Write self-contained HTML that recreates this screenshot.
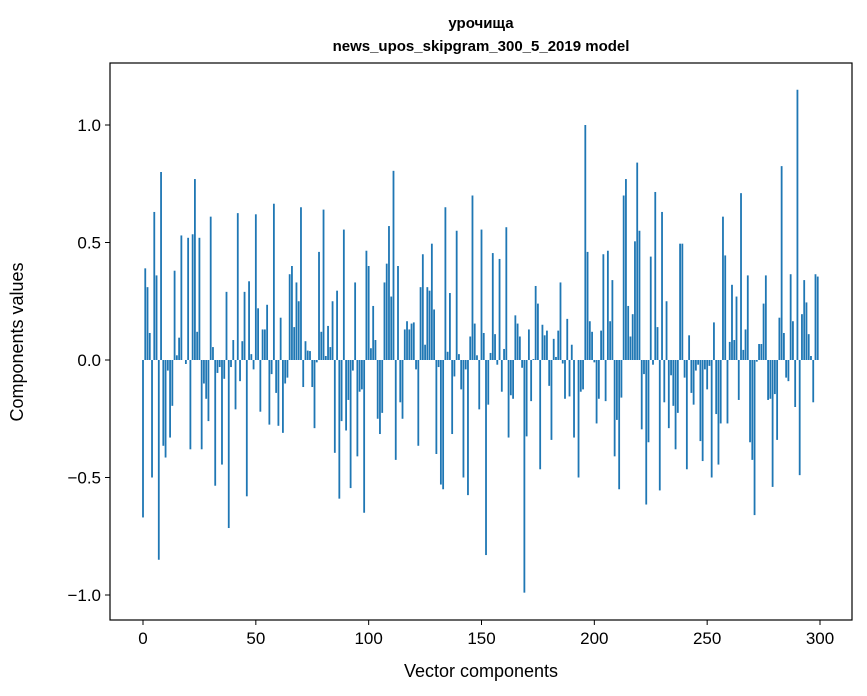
<!DOCTYPE html>
<html><head><meta charset="utf-8">
<style>
body{margin:0;background:#fff;}
svg{display:block;font-family:"Liberation Sans","DejaVu Sans",sans-serif;}
</style></head>
<body>
<svg id="chart" width="867" height="696" viewBox="0 0 867 696">
<rect x="0" y="0" width="867" height="696" fill="#fff"/>
<text x="481" y="28" text-anchor="middle" font-size="15" font-weight="bold">урочища</text>
<text x="481" y="51" text-anchor="middle" font-size="15" font-weight="bold">news_upos_skipgram_300_5_2019 model</text>
<g id="bars"></g>
<g id="axes"></g>
<text x="481" y="677" text-anchor="middle" font-size="18">Vector components</text>
<text transform="translate(23,342) rotate(-90)" text-anchor="middle" font-size="18">Components values</text>
</svg>
<script>
const values = [
-0.67,0.39,0.31,0.115,-0.50,0.63,0.36,-0.85,0.80,-0.365,
-0.415,-0.045,-0.33,-0.195,0.38,0.02,0.095,0.53,0.0,-0.017,
0.52,-0.38,0.535,0.77,0.12,0.52,-0.38,-0.1,-0.165,-0.26,
0.61,0.055,-0.535,-0.055,-0.03,-0.445,-0.08,0.29,-0.715,-0.03,
0.085,-0.21,0.625,-0.09,0.08,0.29,-0.58,0.335,0.025,-0.04,
0.62,0.22,-0.22,0.13,0.13,0.235,-0.275,-0.06,0.665,-0.14,
-0.28,0.18,-0.31,-0.1,-0.075,0.365,0.40,0.14,0.33,0.25,
0.65,-0.115,0.08,0.04,0.038,-0.115,-0.29,-0.01,0.46,0.12,
0.64,0.017,0.145,0.055,0.25,-0.395,0.295,-0.59,-0.26,0.555,
-0.30,-0.17,-0.545,-0.045,0.33,-0.41,-0.135,-0.125,-0.65,0.465,
0.40,0.05,0.23,0.085,-0.25,-0.315,-0.225,0.33,0.41,0.57,
0.27,0.805,-0.425,0.40,-0.18,-0.25,0.13,0.165,0.13,0.155,
0.16,-0.04,-0.365,0.31,0.45,0.065,0.31,0.295,0.495,0.215,
-0.40,-0.03,-0.53,-0.55,0.65,0.035,0.285,-0.315,-0.07,0.55,
0.025,-0.125,-0.50,-0.04,-0.575,0.10,0.70,0.155,0.02,-0.21,
0.555,0.115,-0.83,-0.19,0.03,0.455,0.11,-0.02,0.43,-0.135,
0.047,0.565,-0.33,-0.15,-0.165,0.19,0.155,0.10,-0.033,-0.99,
-0.325,0.13,-0.175,0.004,0.315,0.24,-0.465,0.15,0.105,0.125,
-0.11,-0.34,0.09,0.013,0.125,0.33,-0.015,-0.165,0.175,-0.155,
0.065,-0.33,0.0,-0.50,-0.135,-0.125,1.0,0.46,0.165,0.12,
-0.01,-0.27,-0.165,0.125,0.45,-0.175,0.465,0.165,0.34,-0.41,
-0.255,-0.55,-0.16,0.70,0.77,0.23,0.10,0.195,0.505,0.84,
0.55,-0.295,-0.06,-0.615,-0.35,0.44,-0.02,0.715,0.14,-0.555,
0.63,-0.18,0.25,-0.29,-0.065,-0.195,-0.38,-0.225,0.495,0.495,
-0.075,-0.465,0.105,-0.14,-0.19,-0.045,-0.02,-0.345,-0.43,-0.04,
-0.125,-0.025,-0.50,0.16,-0.23,-0.445,-0.27,0.61,0.445,-0.27,
0.077,0.32,0.085,0.27,-0.17,0.71,0.043,0.13,0.36,-0.35,
-0.425,-0.66,-0.007,0.068,0.068,0.24,0.36,-0.17,-0.165,-0.54,
-0.145,-0.34,0.18,0.825,0.115,-0.075,-0.09,0.365,0.165,-0.20,
1.15,-0.49,0.195,0.34,0.245,0.11,0.017,-0.18,0.365,0.355
];
const xTicks = [0,50,100,150,200,250,300];
const yTicks = [-1.0,-0.5,0.0,0.5,1.0];
const yTickLabels = ["\u22121.0","\u22120.5","0.0","0.5","1.0"];

const NS="http://www.w3.org/2000/svg";
const L=110,T=63,R=852,B=620;
function xs(v){return 143+(820-143)*v/300;}
function ys(v){return 360-235*v;}
const bars=document.getElementById('bars');
values.forEach((v,i)=>{
  const r=document.createElementNS(NS,'rect');
  const w=(xs(1)-xs(0))*0.8;
  r.setAttribute('x',xs(i)-w/2);
  r.setAttribute('y',Math.min(ys(v),ys(0)));
  r.setAttribute('width',w);
  r.setAttribute('height',Math.abs(ys(v)-ys(0)));
  r.setAttribute('fill','#1f77b4');
  
  
  bars.appendChild(r);
});
const ax=document.getElementById('axes');
const frame=document.createElementNS(NS,'rect');
frame.setAttribute('x',L);frame.setAttribute('y',T);
frame.setAttribute('width',R-L);frame.setAttribute('height',B-T);
frame.setAttribute('fill','none');frame.setAttribute('stroke','#000');frame.setAttribute('stroke-width','1.2');


ax.appendChild(frame);
xTicks.forEach(t=>{
  const l=document.createElementNS(NS,'line');
  l.setAttribute('x1',xs(t));l.setAttribute('x2',xs(t));
  l.setAttribute('y1',B);l.setAttribute('y2',B+5);l.setAttribute('stroke','#000');
  
  
  ax.appendChild(l);
  const tx=document.createElementNS(NS,'text');
  tx.setAttribute('x',xs(t));tx.setAttribute('y',B+24);
  tx.setAttribute('text-anchor','middle');tx.setAttribute('font-size','17');
  tx.textContent=t;
  
  
  ax.appendChild(tx);
});
yTicks.forEach((t,k)=>{
  const l=document.createElementNS(NS,'line');
  l.setAttribute('x1',L-5);l.setAttribute('x2',L);
  l.setAttribute('y1',ys(t));l.setAttribute('y2',ys(t));l.setAttribute('stroke','#000');
  
  
  ax.appendChild(l);
  const tx=document.createElementNS(NS,'text');
  tx.setAttribute('x',L-9);tx.setAttribute('y',ys(t)+6);
  tx.setAttribute('text-anchor','end');tx.setAttribute('font-size','17');
  tx.textContent=yTickLabels[k];
  
  
  ax.appendChild(tx);
});
</script>
</body></html>
